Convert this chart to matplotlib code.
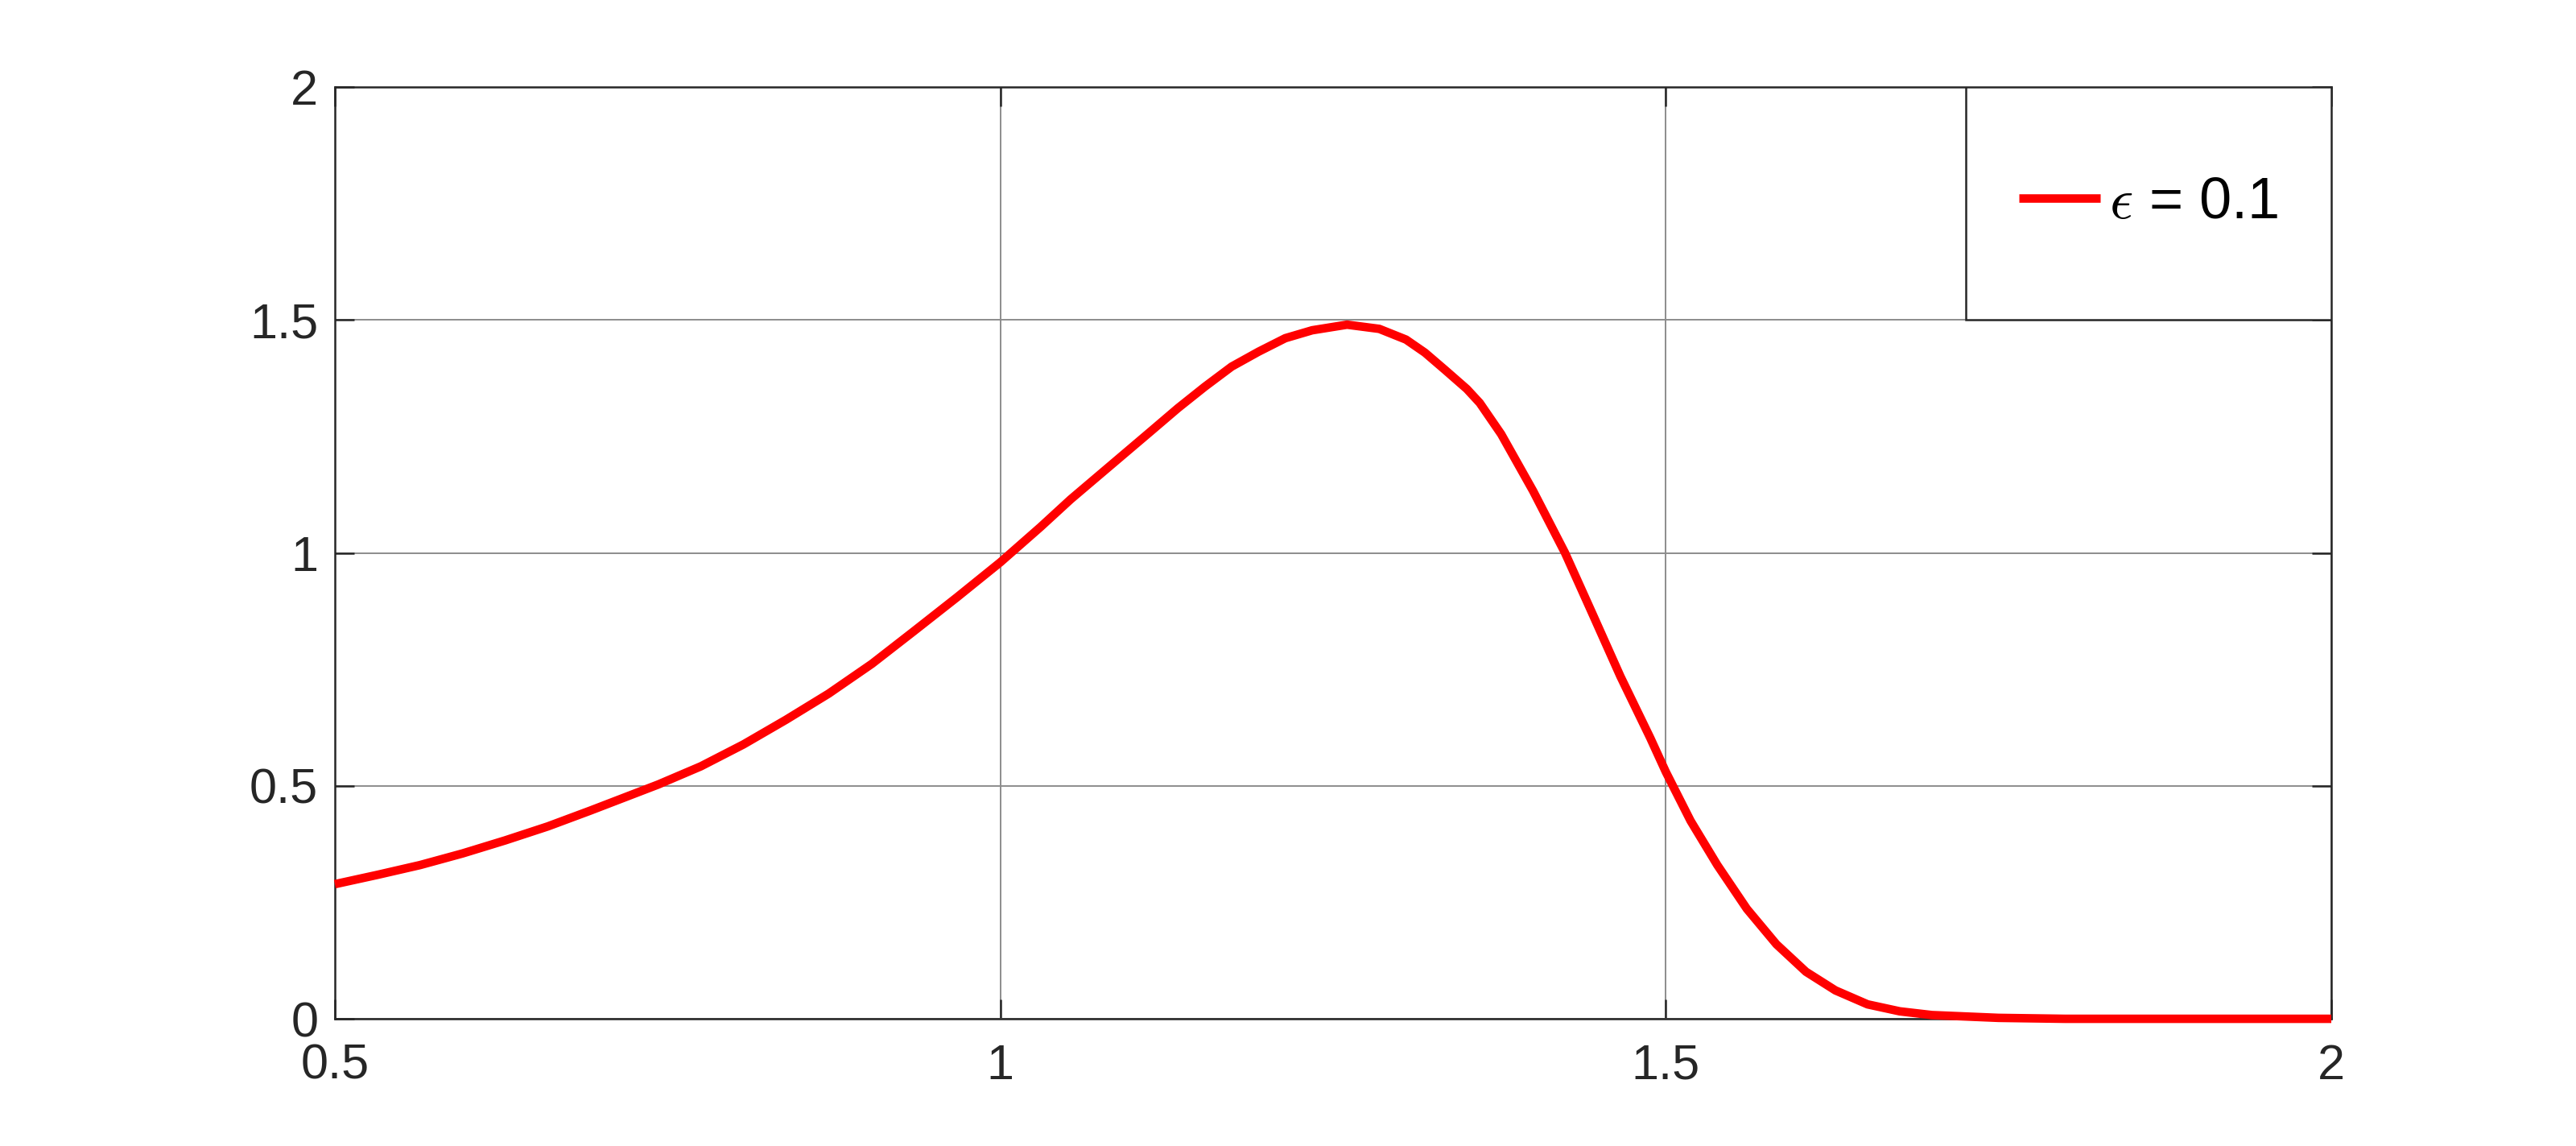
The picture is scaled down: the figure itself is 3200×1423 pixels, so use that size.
import matplotlib
matplotlib.use("Agg")
import matplotlib.pyplot as plt
from matplotlib.patches import Rectangle

# curve values
x_vals = [0.5, 0.532, 0.564, 0.596, 0.628, 0.660, 0.692, 0.743, 0.775, 0.807,
          0.839, 0.871, 0.9035, 0.935, 0.9675, 1.0, 1.0303, 1.0528, 1.0730, 1.0932,
          1.1134, 1.1335, 1.1537, 1.1738, 1.1940, 1.2141, 1.2343, 1.2605, 1.2847, 1.3048,
          1.3190, 1.3345, 1.3505, 1.3602, 1.3763, 1.4003, 1.4243, 1.4451, 1.4659, 1.4883,
          1.5, 1.5186, 1.5387, 1.5609, 1.5831, 1.6053, 1.6274, 1.6516, 1.6758, 1.70,
          1.75, 1.8, 2.0]
y_vals = [0.289, 0.309, 0.330, 0.355, 0.383, 0.413, 0.447, 0.503, 0.542, 0.589,
          0.642, 0.698, 0.762, 0.832, 0.905, 0.98, 1.056, 1.115, 1.164, 1.213,
          1.262, 1.311, 1.357, 1.400, 1.432, 1.461, 1.478, 1.490, 1.481, 1.458,
          1.430, 1.392, 1.352, 1.322, 1.255, 1.133, 1.0, 0.868, 0.735, 0.603,
          0.530, 0.425, 0.330, 0.236, 0.160, 0.101, 0.061, 0.031, 0.016, 0.008,
          0.002, 0.0, 0.0]
series_label = r"$\epsilon$ = 0.1"

x_ticks = [0.5, 1, 1.5, 2]
x_ticklabels = ["0.5", "1", "1.5", "2"]
y_ticks = [0, 0.5, 1, 1.5, 2]
y_ticklabels = ["0", "0.5", "1", "1.5", "2"]

plt.rcParams["font.family"] = ["Liberation Sans", "DejaVu Sans"]
plt.rcParams["mathtext.fontset"] = "cm"

dark = "#262626"

fig = plt.figure(figsize=(16, 7.115), dpi=200)
ax = fig.add_axes([0.13, 0.111, 0.775, 0.813])

line, = ax.plot(x_vals, y_vals, color="#ff0000", lw=3.8, label=series_label,
                clip_on=False, zorder=5, solid_joinstyle="round",
                solid_capstyle="butt")

ax.set_xlim(0.5, 2)
ax.set_ylim(0, 2)
ax.set_xticks(x_ticks)
ax.set_xticklabels(x_ticklabels)
ax.set_yticks(y_ticks)
ax.set_yticklabels(y_ticklabels)

ax.grid(True, color="#8c8c8c", lw=0.7)
ax.set_axisbelow(True)
ax.tick_params(axis="both", direction="in", length=8.6, width=0.9,
               colors=dark, labelsize=22, top=True, right=True)
ax.tick_params(axis="y", pad=7.5)
ax.tick_params(axis="x", pad=11)
for sp in ax.spines.values():
    sp.set_color(dark)
    sp.set_linewidth(0.9)

# legend box, white over the grid
bx, by, bw, bh = 0.817, 0.75, 0.183, 0.25
box = Rectangle((bx, by), bw, bh, transform=ax.transAxes,
                facecolor="white", edgecolor=dark, lw=0.9, zorder=6)
ax.add_patch(box)
leg = ax.legend(handles=[line], loc="center",
                bbox_to_anchor=(bx + bw / 2, by + bh / 2),
                frameon=False, fontsize=26, handlelength=1.4,
                handletextpad=0.15)
leg.set_zorder(7)

fig.savefig("out.png", dpi=200)
